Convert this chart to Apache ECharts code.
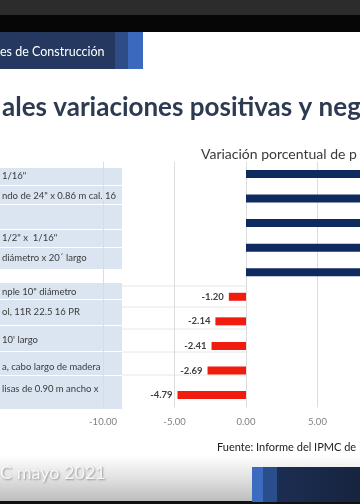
<!DOCTYPE html>
<html>
<head>
<meta charset="utf-8">
<script src="https://cdn.jsdelivr.net/npm/echarts@6/dist/echarts.min.js"></script>
<style>
html,body{margin:0;padding:0;background:#fff;}
#c{width:360px;height:504px;}
</style>
</head>
<body>
<div id="c"></div>
<script>
// ---- data ----
const categories = ['1/16"', 'ndo de 24" x 0.86 m cal. 16', '', '1/2" x  1/16"', 'diámetro x 20´ largo',
  'nple 10" diámetro', 'ol, 11R 22.5 16 PR', '10\' largo', 'a, cabo largo de madera', 'lisas de 0.90 m ancho x'];
const positiveValues = [28.4, 21.7, 17.9, 15.2, 12.6];
const negativeValues = [-1.20, -2.14, -2.41, -2.69, -4.79];
const values = positiveValues.concat(negativeValues);
const xTicks = { min: -10, max: 30, interval: 5 };
const slideTitle = 'ales variaciones positivas y neg';
const chartTitle = 'Variación porcentual de p';
const headerText = 'es de Construcción';
const sourceText = 'Fuente: Informe del IPMC de';
const footerText = 'C mayo 2021';

const FONT = 'Lato, "Open Sans", sans-serif';
const NAVY = '#0f2a5e';
const RED = '#f01c0e';

// table layout (decoration)
const rowBands = [[168,186],[186,205],[205,230],[230,248],[248,270],[283,300],[300,326],[326,352],[352,376],[376,410]];
const rowTextY = [176,196,218,238,258,292,312,340,367,389];

const graphics = [];
graphics.push({type:'rect', shape:{x:0,y:0,width:360,height:15}, style:{fill:'#2c2c2c'}, z:-5});
graphics.push({type:'rect', shape:{x:0,y:15,width:360,height:17}, style:{fill:'#060606'}, z:-5});
graphics.push({type:'rect', shape:{x:0,y:32,width:115,height:37}, style:{fill:'#25385f'}, z:-5});
graphics.push({type:'rect', shape:{x:115,y:32,width:13,height:37}, style:{fill:'#2d4c88'}, z:-5});
graphics.push({type:'rect', shape:{x:128,y:32,width:15,height:37}, style:{fill:'#3b69bd'}, z:-5});
graphics.push({type:'text', x:0, y:52, style:{text:headerText, fill:'#ffffff', font:'12.5px ' + FONT, verticalAlign:'middle'}, z:5});
graphics.push({type:'text', x:2, y:108, style:{text:slideTitle, fill:'#2d3a52', font:'bold 26px ' + FONT, verticalAlign:'middle'}, z:5});
rowBands.forEach(function(b, i){
  graphics.push({type:'rect', shape:{x:0, y:b[0], width:122, height:b[1]-b[0]-1}, style:{fill:'#dbe5f1'}, z:-4});
  graphics.push({type:'text', x:2, y:rowTextY[i], style:{text:categories[i], fill:'#3a3a3a', font:'9.5px ' + FONT, verticalAlign:'middle'}, z:5});
});
[286,307,329,352,375].forEach(function(y){
  graphics.push({type:'line', shape:{x1:122,y1:y,x2:246,y2:y}, style:{stroke:'#e6e6e6', lineWidth:1}, z:-3});
});
graphics.push({type:'text', x:217, y:447, style:{text:sourceText, fill:'#222222', font:'11px ' + FONT, verticalAlign:'middle'}, z:5});
graphics.push({type:'rect', shape:{x:0,y:455,width:360,height:47}, style:{fill:new echarts.graphic.LinearGradient(0,0,0,1,[{offset:0,color:'#ffffff'},{offset:0.45,color:'#e4e4e4'},{offset:1,color:'#bcbcbc'}])}, z:-5});
graphics.push({type:'rect', shape:{x:0,y:501,width:360,height:3}, style:{fill:'#111111'}, z:-5});
graphics.push({type:'text', x:0, y:473, style:{text:footerText, fill:'#f7f7f7', font:'18px ' + FONT, verticalAlign:'middle', textShadowColor:'rgba(90,90,90,0.6)', textShadowBlur:2, textShadowOffsetX:1, textShadowOffsetY:1}, z:5});
graphics.push({type:'rect', shape:{x:252,y:467,width:108,height:35}, style:{fill:new echarts.graphic.LinearGradient(0,0,1,0,[{offset:0,color:'#1d3058'},{offset:1,color:'#17243f'}])}, z:-4});
graphics.push({type:'rect', shape:{x:252,y:467,width:11,height:35}, style:{fill:'#3c6bbf'}, z:-3});
graphics.push({type:'rect', shape:{x:263,y:467,width:14,height:35}, style:{fill:'#2a4d8c'}, z:-3});

const chart = echarts.init(document.getElementById('c'), null, {renderer:'canvas', width:360, height:504});
chart.setOption({
  backgroundColor:'#ffffff',
  animation:false,
  title:{text:chartTitle, left:201, top:147, padding:0, textStyle:{fontFamily:FONT, fontSize:14, fontWeight:'normal', color:'#3a3a3a'}},
  grid:{left:103, top:161.7, width:(xTicks.max - xTicks.min) * 14.3, height:245.6, outerBoundsMode:'none', containLabel:false},
  xAxis:{type:'value', min:xTicks.min, max:xTicks.max, interval:xTicks.interval,
    axisLine:{show:false}, axisTick:{show:false},
    axisLabel:{margin:10, color:'#808080', fontFamily:FONT, fontSize:9.5, formatter:function(v){return v.toFixed(2);}},
    splitLine:{show:true, lineStyle:{color:'#dcdcdc', width:1}}},
  yAxis:{type:'category', data:categories, inverse:true, show:false},
  series:[{type:'bar', barWidth:8,
    data: values.map(function(v){return {value:v, itemStyle:{color: v < 0 ? RED : NAVY}, label:{position: v < 0 ? 'left' : 'right'}};}),
    label:{show:true, distance:5, color:'#404040', fontFamily:FONT, fontSize:9.5, fontWeight:'bold', formatter:function(p){return p.value.toFixed(2);}}
  }],
  graphic:{elements:graphics}
});
</script>
</body>
</html>
